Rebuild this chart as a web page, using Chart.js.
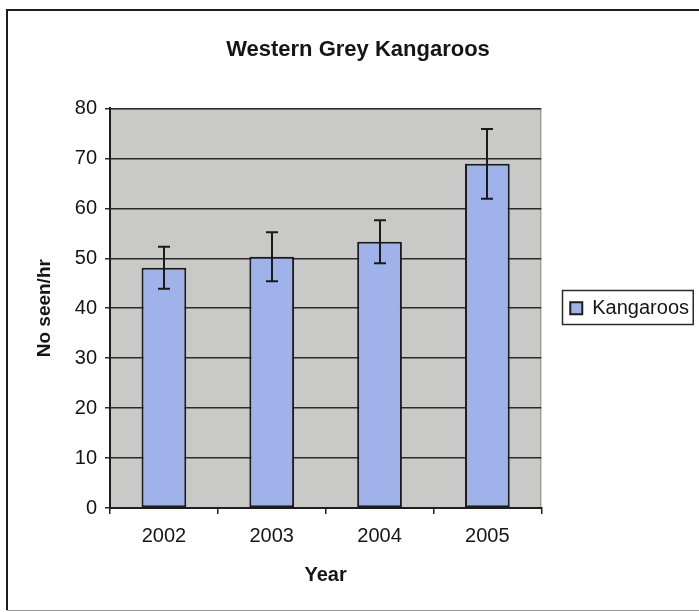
<!DOCTYPE html>
<html>
<head>
<meta charset="utf-8">
<title>Western Grey Kangaroos</title>
<script src="https://cdn.jsdelivr.net/npm/chart.js@4/dist/chart.umd.min.js"></script>
<style>
  html, body { margin: 0; padding: 0; background: #ffffff; }
  #wrap { width: 699px; height: 612px; position: relative; }
</style>
</head>
<body>
<div id="wrap"><canvas id="chart" width="699" height="612"></canvas></div>
<script>
// Survey results: kangaroos seen per hour, by year
const years = ['2002', '2003', '2004', '2005'];
const sightings = [48.1, 50.3, 53.3, 68.9];
const errorMargins = [4.2, 4.9, 4.3, 7.0];
const yTicks = [0, 10, 20, 30, 40, 50, 60, 70, 80];

const chartTitle = 'Western Grey Kangaroos';
const seriesName = 'Kangaroos';
const xTitle = 'Year';
const yTitle = 'No seen/hr';

const FONT = "'Liberation Sans', Arial, Helvetica, sans-serif";
const INK = '#151515';

Chart.defaults.font.family = FONT;
Chart.defaults.color = INK;

// White page, outer frame and grey plot background
const framePlugin = {
  id: 'frame',
  beforeDraw(chart) {
    const { ctx, chartArea: a } = chart;
    ctx.save();
    ctx.fillStyle = '#ffffff';
    ctx.fillRect(0, 0, chart.width, chart.height);
    // outer border of the chart
    ctx.strokeStyle = '#1e1e1e';
    ctx.lineWidth = 2;
    ctx.beginPath();
    ctx.moveTo(7, 610);
    ctx.lineTo(7, 10);
    ctx.lineTo(chart.width, 10);
    ctx.stroke();
    ctx.strokeStyle = '#9a9a9a';
    ctx.lineWidth = 1;
    ctx.beginPath();
    ctx.moveTo(7, 610.5);
    ctx.lineTo(chart.width, 610.5);
    ctx.stroke();
    // plot area
    ctx.fillStyle = '#c9c9c7';
    ctx.fillRect(a.left, a.top, a.right - a.left, a.bottom - a.top);
    ctx.strokeStyle = '#8c8c8c';
    ctx.lineWidth = 1;
    ctx.strokeRect(a.left + 0.5, a.top + 0.5, a.right - a.left - 1, a.bottom - a.top - 1);
    ctx.restore();
  },
  afterDraw(chart) {
    // box around the legend
    const lg = chart.legend;
    if (!lg || !lg.legendHitBoxes || !lg.legendHitBoxes.length) return;
    const hb = lg.legendHitBoxes[0];
    const { ctx } = chart;
    ctx.save();
    ctx.strokeStyle = '#2a2a2a';
    ctx.lineWidth = 1.5;
    ctx.strokeRect(Math.round(hb.left) - 7.5, Math.round(hb.top) - 7.5, hb.width + 12, hb.height + 14);
    ctx.restore();
  }
};

// Error bars drawn from the same values as the bars
const errorBarPlugin = {
  id: 'errorBars',
  afterDatasetsDraw(chart) {
    const { ctx } = chart;
    const y = chart.scales.y;
    const meta = chart.getDatasetMeta(0);
    ctx.save();
    ctx.strokeStyle = '#1a1a1a';
    ctx.lineWidth = 2;
    meta.data.forEach((bar, i) => {
      const v = sightings[i];
      const e = errorMargins[i];
      const yTop = y.getPixelForValue(v + e);
      const yBot = y.getPixelForValue(v - e);
      const x = Math.round(bar.x);
      const cap = 6;
      ctx.beginPath();
      ctx.moveTo(x, yTop);
      ctx.lineTo(x, yBot);
      ctx.moveTo(x - cap, yTop);
      ctx.lineTo(x + cap, yTop);
      ctx.moveTo(x - cap, yBot);
      ctx.lineTo(x + cap, yBot);
      ctx.stroke();
    });
    ctx.restore();
  }
};

new Chart(document.getElementById('chart'), {
  type: 'bar',
  data: {
    labels: years,
    datasets: [{
      label: seriesName,
      data: sightings,
      backgroundColor: '#9fb2ea',
      borderColor: '#1c1c1c',
      borderWidth: 2,
      borderSkipped: false,
      categoryPercentage: 1.0,
      barPercentage: 0.415
    }]
  },
  options: {
    responsive: false,
    animation: false,
    devicePixelRatio: 1,
    layout: { padding: { left: 17, right: 0, top: 0, bottom: 20 } },
    plugins: {
      title: {
        display: true,
        text: chartTitle,
        color: INK,
        font: { size: 22, weight: 'bold', family: FONT },
        padding: { top: 37, bottom: 45 }
      },
      legend: {
        display: true,
        position: 'right',
        fullSize: false,
        labels: {
          boxWidth: 12,
          boxHeight: 12,
          padding: 29,
          color: INK,
          font: { size: 20, family: FONT }
        }
      },
      tooltip: { enabled: false }
    },
    scales: {
      x: {
        offset: true,
        grid: {
          offset: true,
          drawOnChartArea: false,
          drawTicks: true,
          tickLength: 6,
          color: '#222',
          lineWidth: 1.5
        },
        border: { display: true, color: '#1e1e1e', width: 2 },
        ticks: { color: INK, font: { size: 20, family: FONT }, padding: 10, maxRotation: 0 },
        title: {
          display: true,
          text: xTitle,
          color: INK,
          font: { size: 20, weight: 'bold', family: FONT },
          padding: { top: 0, bottom: 5 }
        },
        afterFit(scale) { scale.height = 84; }
      },
      y: {
        position: 'left',
        min: 0,
        max: 80,
        afterBuildTicks(scale) { scale.ticks = yTicks.map(v => ({ value: v })); },
        grid: {
          color: '#2a2a2a',
          lineWidth: 1.5,
          drawTicks: true,
          tickLength: 5
        },
        border: { display: true, color: '#1e1e1e', width: 2 },
        ticks: { color: INK, font: { size: 20, family: FONT }, padding: 8 },
        title: {
          display: true,
          text: yTitle,
          color: INK,
          font: { size: 19, weight: 'bold', family: FONT },
          padding: { top: 16, bottom: 0 }
        },
        afterFit(scale) { scale.width = 93; }
      }
    }
  },
  plugins: [framePlugin, errorBarPlugin]
});
</script>
</body>
</html>
